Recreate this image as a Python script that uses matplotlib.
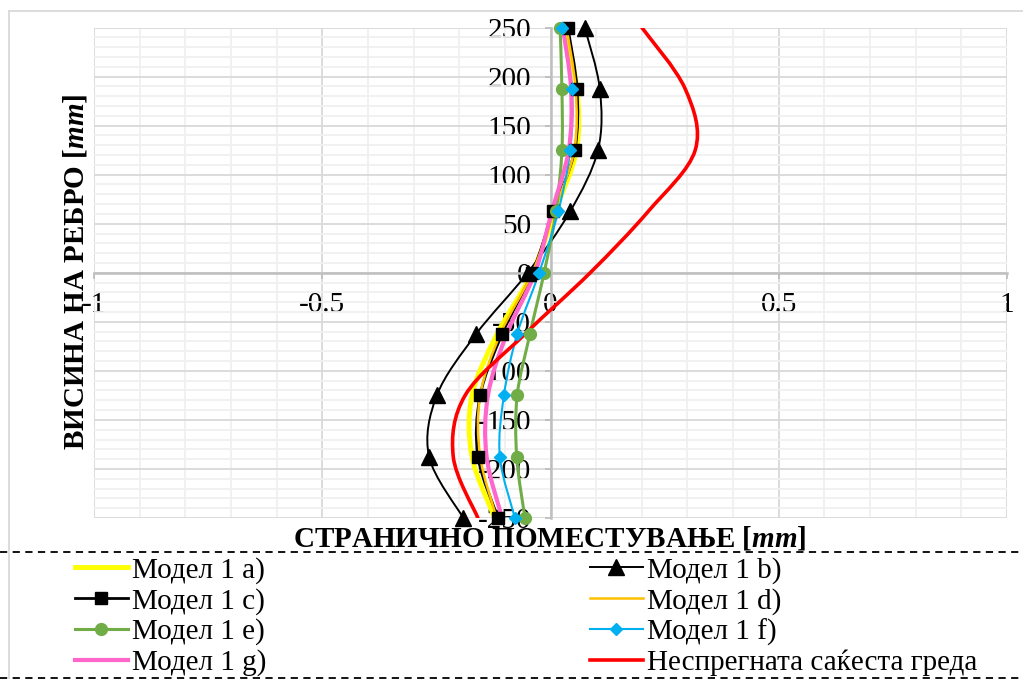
import matplotlib
matplotlib.use("Agg")
import matplotlib.pyplot as plt
from matplotlib.path import Path
from matplotlib.patches import PathPatch
from matplotlib.lines import Line2D
from matplotlib.ticker import MultipleLocator

plt.rcParams['font.family'] = ['Liberation Serif', 'DejaVu Serif']
plt.rcParams['axes.unicode_minus'] = False
plt.rcParams['mathtext.fontset'] = 'custom'
plt.rcParams['mathtext.bfit'] = 'Liberation Serif:italic:bold'

# heights along the rib [mm] and lateral displacement of each model [mm]
heights = [250, 187.5, 125, 62.5, 0, -62.5, -125, -187.5, -250]
model_a = [0.030, 0.058, 0.057, 0.010, -0.040, -0.117, -0.172, -0.172, -0.122]
model_b = [0.075, 0.108, 0.104, 0.043, -0.050, -0.163, -0.249, -0.266, -0.191]
model_c = [0.038, 0.058, 0.053, 0.006, -0.040, -0.106, -0.154, -0.159, -0.115]
model_d = [0.035, 0.055, 0.052, 0.008, -0.040, -0.110, -0.154, -0.154, -0.118]
model_e = [0.021, 0.025, 0.025, 0.012, -0.014, -0.045, -0.073, -0.074, -0.056]
model_f = [0.025, 0.047, 0.043, 0.017, -0.025, -0.073, -0.102, -0.111, -0.078]
model_g = [0.027, 0.045, 0.040, 0.003, -0.034, -0.096, -0.137, -0.140, -0.106]
uncoupled = [0.200, 0.295, 0.317, 0.214, 0.087, -0.056, -0.187, -0.213, -0.159]

x_ticks = [-1, -0.5, 0, 0.5, 1]

# label, values, colour, line width, marker, marker size
series = [
    ("Модел 1 a)", model_a, "#FFFF00", 3.5, None, 0),
    ("Модел 1 b)", model_b, "black", 1.4, "^", 11),
    ("Модел 1 c)", model_c, "black", 2.0, "s", 9),
    ("Модел 1 d)", model_d, "#FFC000", 1.8, None, 0),
    ("Модел 1 e)", model_e, "#70AD47", 2.2, "o", 8.5),
    ("Модел 1 f)", model_f, "#00B0F0", 1.5, "D", 6.5),
    ("Модел 1 g)", model_g, "#FF66CC", 3.0, None, 0),
    ("Неспрегната саќеста греда", uncoupled, "#FF0000", 2.6, None, 0),
]


def smooth_path(xs, ys):
    # bezier segments through the points, like a spreadsheet "smoothed line"
    pts = list(zip(xs, ys))
    n = len(pts)
    verts = [pts[0]]
    codes = [Path.MOVETO]
    for i in range(n - 1):
        p0 = pts[max(i - 1, 0)]
        p1 = pts[i]
        p2 = pts[i + 1]
        p3 = pts[min(i + 2, n - 1)]
        c1 = (p1[0] + (p2[0] - p0[0]) / 6, p1[1] + (p2[1] - p0[1]) / 6)
        c2 = (p2[0] - (p3[0] - p1[0]) / 6, p2[1] - (p3[1] - p1[1]) / 6)
        verts += [c1, c2, p2]
        codes += [Path.CURVE4] * 3
    return Path(verts, codes)


W, H = 1023, 679
fig = plt.figure(figsize=(W / 100, H / 100), dpi=100)
ax = fig.add_axes([94 / W, 1 - 518 / H, (1007 - 94) / W, (518 - 27.5) / H])

ax.set_xlim(-1, 1)
ax.set_ylim(-250, 250)
ax.set_xticks(x_ticks)
ax.set_xticklabels([str(t) for t in x_ticks])
ax.xaxis.set_minor_locator(MultipleLocator(0.1))
ax.yaxis.set_major_locator(MultipleLocator(50))
ax.yaxis.set_minor_locator(MultipleLocator(10))
ax.grid(which='minor', color='#f0f0f0', lw=1.3)
ax.grid(which='major', color='#d9d9d9', lw=1.3)

for side in ['top', 'right']:
    ax.spines[side].set_visible(False)
ax.spines['left'].set_position(('data', 0))
ax.spines['bottom'].set_position(('data', 0))
for side in ['left', 'bottom']:
    ax.spines[side].set_color('#bfbfbf')
    ax.spines[side].set_linewidth(1.8)
ax.tick_params(which='major', direction='out', length=4, width=1.3,
               color='#bfbfbf', labelsize=21, pad=10)
ax.tick_params(which='minor', length=0)

handles = []
for label, vals, color, lw, marker, ms in series:
    patch = PathPatch(smooth_path(vals, heights), fill=False, edgecolor=color,
                      lw=lw, zorder=3, capstyle='round', joinstyle='round')
    ax.add_patch(patch)
    if marker:
        ax.plot(vals, heights, ls='none', marker=marker, ms=ms, color=color,
                zorder=4, clip_on=False)
    handles.append(Line2D([], [], color=color, lw=lw, marker=marker, ms=ms))

fig.text(76 / W, 1 - 272 / H, r"ВИСИНА НА РЕБРО [$\mathbfit{mm}$]", rotation=90,
         ha='center', va='center', fontsize=21, fontweight='bold')
fig.text(550 / W, 1 - 538 / H, r"СТРАНИЧНО ПОМЕСТУВАЊЕ [$\mathbfit{mm}$]",
         ha='center', va='center', fontsize=21, fontweight='bold')

labels = [s[0] for s in series]
legend_opts = dict(frameon=False, fontsize=21, handlelength=1.8, handletextpad=0.15,
                   labelspacing=0.13, borderpad=0, borderaxespad=0, loc='center left')
fig.legend(handles[0::2], labels[0::2], bbox_to_anchor=(75 / W, 1 - 616.5 / H), **legend_opts)
fig.legend(handles[1::2], labels[1::2], bbox_to_anchor=(590 / W, 1 - 616.5 / H), **legend_opts)

# legend frame: dashed rules above and below
for yy in [552, 677.5]:
    fig.add_artist(Line2D([0, 1], [1 - yy / H] * 2, transform=fig.transFigure,
                          color='black', lw=1.3, ls=(0, (4, 3))))
# chart area border
fig.add_artist(Line2D([9 / W, 1], [1 - 11 / H] * 2, transform=fig.transFigure,
                      color='#d9d9d9', lw=1.3))
fig.add_artist(Line2D([9 / W, 9 / W], [0, 1 - 11 / H], transform=fig.transFigure,
                      color='#d9d9d9', lw=1.3))

fig.savefig("out.png", dpi=100)
